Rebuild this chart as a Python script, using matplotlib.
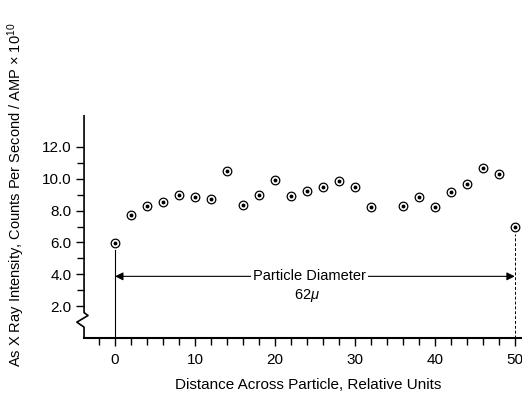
import matplotlib
matplotlib.use("Agg")
from matplotlib import pyplot as plt
from matplotlib.ticker import FixedLocator, FormatStrFormatter

plt.rcParams['font.family'] = ['Liberation Sans', 'DejaVu Sans']
plt.rcParams['mathtext.fontset'] = 'custom'
plt.rcParams['mathtext.rm'] = 'Liberation Sans'
plt.rcParams['mathtext.it'] = 'Liberation Sans:italic'

# distance across particle (relative units) and As x-ray intensity
distance = [0, 2, 4, 6, 8, 10, 12, 14, 16, 18, 20, 22, 24, 26, 28, 30, 32,
            36, 38, 40, 42, 44, 46, 48, 50]
intensity = [5.95, 7.7, 8.3, 8.55, 8.95, 8.85, 8.75, 10.5, 8.35, 8.95, 9.9, 8.9,
             9.25, 9.5, 9.85, 9.45, 8.2, 8.3, 8.85, 8.25, 9.15, 9.65, 10.65, 10.3, 7.0]

xticks = [0, 10, 20, 30, 40, 50]
yticks = [2, 4, 6, 8, 10, 12]
diameter_label = "Particle Diameter"
diameter_value = r"62$\mu$"

fig = plt.figure(figsize=(5.22, 3.95), dpi=100)
ax = fig.add_axes([0.161, 0.144, 0.839, 0.565])

xmin, xmax = -3.875, 50.9
ax.set_xlim(xmin, xmax)
ax.set_ylim(0, 14)

# open circles with a dot in the middle
ax.plot(distance, intensity, 'o', ms=6.2, mfc='white', mec='black', mew=0.9, zorder=4)
ax.plot(distance, intensity, 'o', ms=1.8, color='black', zorder=5)

# drop lines marking the particle edges
ax.plot([distance[0], distance[0]], [0, intensity[0] - 0.45], color='black', lw=0.8)
ax.plot([distance[-1], distance[-1]], [0, intensity[-1] - 0.45], color='black', lw=0.7,
        ls=(0, (3, 2)))

# diameter arrow
ax.annotate('', xy=(distance[0], 3.875), xytext=(distance[-1], 3.875),
            arrowprops=dict(arrowstyle='<|-|>', color='black', lw=0.8,
                            mutation_scale=12, shrinkA=0, shrinkB=0))
ax.text(24.3, 3.875, diameter_label, ha='center', va='center', fontsize=10.5,
        bbox=dict(facecolor='white', edgecolor='none', pad=1.5), zorder=3)
ax.text(24.0, 2.65, diameter_value, ha='center', va='center', fontsize=10.5)

# axes: left spine drawn by hand with a break near the bottom
ax.spines['top'].set_visible(False)
ax.spines['right'].set_visible(False)
ax.spines['left'].set_visible(False)
ax.spines['bottom'].set_linewidth(1.5)
brk_x = [xmin, xmin, xmin + 0.5, xmin - 0.9, xmin, xmin]
brk_y = [14, 1.6, 1.42, 1.0, 0.69, 0]
ax.plot(brk_x, brk_y, color='black', lw=1.2, clip_on=False, solid_capstyle='butt')

ax.xaxis.set_major_locator(FixedLocator(xticks))
ax.xaxis.set_minor_locator(FixedLocator(list(range(-2, 51, 2))))
ax.yaxis.set_major_locator(FixedLocator(yticks))
ax.yaxis.set_minor_locator(FixedLocator([3, 5, 7, 9, 11]))
ax.yaxis.set_major_formatter(FormatStrFormatter('%.1f'))
ax.tick_params(axis='both', which='both', direction='out', width=1.0, labelsize=11)
ax.tick_params(axis='both', which='major', length=6, pad=3)
ax.tick_params(axis='x', which='major', pad=5)
ax.tick_params(axis='both', which='minor', length=5)

fig.text(0.5 * (170 + 447) / 522, 1 - 385 / 395, "Distance Across Particle, Relative Units",
         ha='center', va='center', fontsize=11)
fig.text(16 / 522, 1 - 195 / 395,
         "As X Ray Intensity, Counts Per Second / AMP \u00d7 10$^{10}$",
         ha='center', va='center', rotation=90, fontsize=10.5)

fig.savefig("out.png", dpi=100)
